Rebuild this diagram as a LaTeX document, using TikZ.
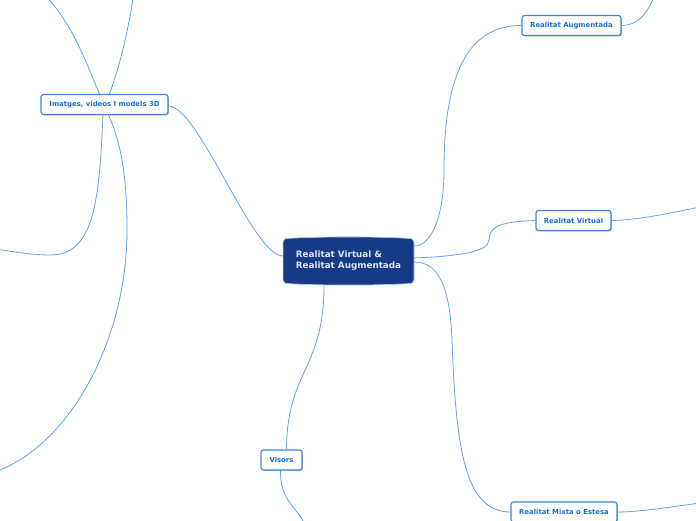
\documentclass[tikz,border=0pt]{standalone}
\usepackage{fontspec}
\newfontfamily\dvs{DejaVu Sans}
\usetikzlibrary{shadows}
\definecolor{edgeblue}{HTML}{62A2EA}
\definecolor{boxblue}{HTML}{3A86DC}
\definecolor{txtblue}{HTML}{1C6ED2}
\definecolor{cfill}{HTML}{173A86}
\definecolor{cborder}{HTML}{AFC5E8}
\definecolor{ctext}{HTML}{DCE6F4}
\tikzset{
  topic/.style={draw=boxblue, line width=1.1pt, fill=white, rounded corners=2.5pt,
    minimum height=20pt, inner xsep=4pt, inner ysep=0pt,
    font=\dvs\bfseries\fontsize{6.9}{8}\selectfont, text=txtblue,
    drop shadow={shadow xshift=0.9pt, shadow yshift=-0.9pt, opacity=0.3, fill=black}},
  central/.style={minimum width=131pt, minimum height=48pt, inner sep=0pt, align=left,
    font=\dvs\bfseries\fontsize{8.8}{11}\selectfont, text=ctext},
  conn/.style={draw=edgeblue, line width=0.8pt},
}
\begin{document}
\begin{tikzpicture}[x=1pt,y=-1pt]
\useasboundingbox (0,0) rectangle (696,520);
\clip (0,0) rectangle (696,520);
% central shape
\path[fill=cfill, draw=cborder, line width=0.7pt]
 (283,242) .. controls (283,239) and (285,238.5) .. (290,238.3)
 .. controls (320,236.5) and (377,236.5) .. (407,238.3)
 .. controls (412,238.5) and (414,239) .. (414,242) -- (414,280)
 .. controls (414,283) and (412,283.5) .. (407,283.7)
 .. controls (377,285.5) and (320,285.5) .. (290,283.7)
 .. controls (285,283.5) and (283,283) .. (283,280) -- cycle;
\node[central] (c) at (348.5,261) {Realitat Virtual \&\\Realitat Augmentada};

\node[topic, minimum width=127pt] (img) at (104.5,104.5) {Imatges, videos I models 3D};
\node[topic, minimum width=99pt] (ra) at (571.5,25.5) {Realitat Augmentada};
\node[topic, minimum width=75pt] (rv) at (573.5,220.5) {Realitat Virtual};
\node[topic, minimum width=106pt] (rm) at (564,512) {Realitat Mixta o Estesa};
\node[topic, minimum width=41pt] (vis) at (281.5,460) {Visors};

% off-picture ends
\coordinate (i1) at (42,-8);
\coordinate (i2) at (134,-8);
\coordinate (i3) at (-5,249);
\coordinate (i4) at (-5,472);
\coordinate (a1) at (655,-6);
\coordinate (v1) at (700,207);
\coordinate (m1) at (700,503);
\coordinate (s1) at (306,526);

\begin{scope}[conn]
% central to children
\draw ([yshift=5pt]c.west) .. controls +(-30,0) and +(30,0) .. ([yshift=-1.5pt]img.east);
\draw ([yshift=15pt]c.east) .. controls (432,246) and (444,215) .. (444,170)
  .. controls (444,70) and (470,25.5) .. (ra.west);
\draw ([yshift=3pt]c.east) .. controls (460,256) and (488,252) .. (489,240)
  .. controls (490,228) and (495,222) .. (rv.west);
\draw ([yshift=-1pt]c.east) .. controls (440,262) and (450,290) .. (452,340)
  .. controls (456,450) and (465,512) .. (rm.west);
\draw ([xshift=-24.5pt]c.south) .. controls (324,370) and (287,370) .. ([xshift=5pt]vis.north);
% grandchildren
\draw ([xshift=-1pt]vis.south) .. controls (280,500) and (295,505) .. (s1);
\draw ([xshift=-5pt]img.north) .. controls (85,60) and (72,22) .. (i1);
\draw ([xshift=5pt]img.north) .. controls (122,60) and (130,20) .. (i2);
\draw ([xshift=-1.5pt]img.south) .. controls (99,200) and (95,255) .. (50,255)
  .. controls (30,255) and (10,251) .. (i3);
\draw ([xshift=4pt]img.south) .. controls (122,145) and (127,180) .. (127,230)
  .. controls (127,340) and (70,445) .. (i4);
\draw (ra.east) .. controls (640,25) and (648,12) .. (a1);
\draw (rv.east) .. controls (640,220) and (670,213) .. (v1);
\draw (rm.east) .. controls (640,512) and (670,507) .. (m1);
\end{scope}
\end{tikzpicture}
\end{document}
